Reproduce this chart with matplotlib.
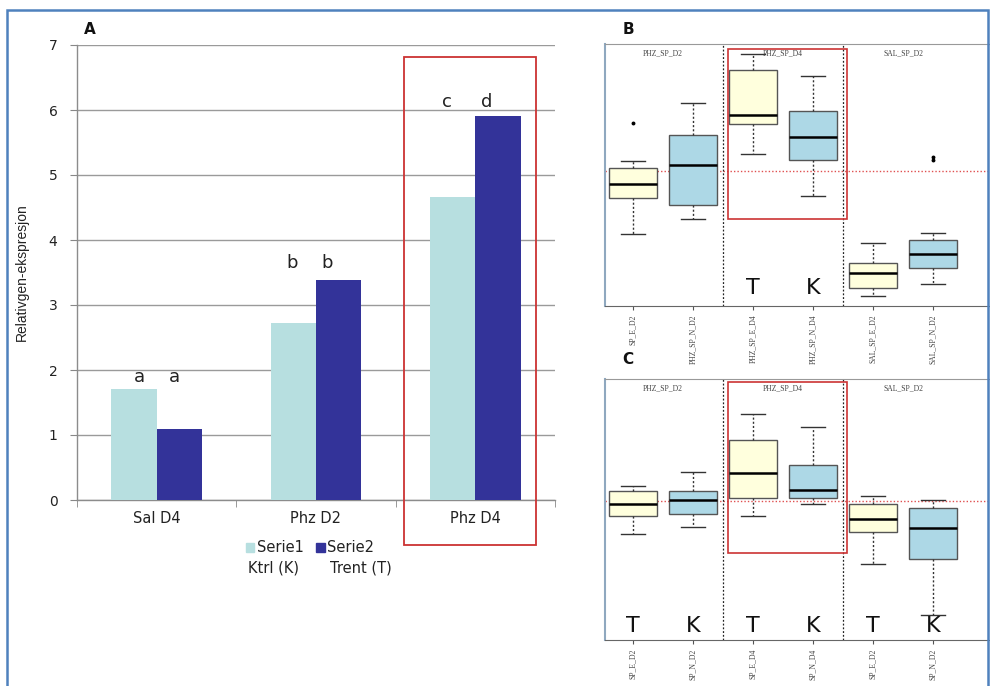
import matplotlib
matplotlib.use("Agg")
import matplotlib.pyplot as plt
from matplotlib.patches import Rectangle, Patch

# ---------------- data ----------------
categories = ["Sal D4", "Phz D2", "Phz D4"]
serie1 = [1.71, 2.72, 4.66]   # Ktrl (K)
serie2 = [1.09, 3.38, 5.91]   # Trent (T)
letters1 = ["a", "b", "c"]
letters2 = ["a", "b", "d"]
yticks_a = [0, 1, 2, 3, 4, 5, 6, 7]

strip_titles = ["PHZ_SP_D2", "PHZ_SP_D4", "SAL_SP_D2"]
b_labels = ["SP_E_D2", "PHZ_SP_N_D2", "PHZ_SP_E_D4", "PHZ_SP_N_D4", "SAL_SP_E_D2", "SAL_SP_N_D2"]
c_labels = ["SP_E_D2", "SP_N_D2", "SP_E_D4", "SP_N_D4", "SP_E_D2", "SP_N_D2"]
tk_labels = ["T", "K", "T", "K", "T", "K"]

# box stats: (whislo, q1, med, q3, whishi, fliers)
b_stats = [
    (2.75, 4.12, 4.66, 5.27, 5.53, [6.99]),
    (3.32, 3.85, 5.38, 6.53, 7.75, []),
    (5.80, 6.95, 7.29, 9.01, 9.62, []),
    (4.20, 5.57, 6.45, 7.44, 8.78, []),
    (0.38, 0.69, 1.26, 1.64, 2.41, []),
    (0.84, 1.45, 1.98, 2.52, 2.79, [5.69, 5.57]),
]
b_ref = 5.15
c_stats = [
    (4.06, 4.75, 5.21, 5.71, 5.90, []),
    (4.33, 4.83, 5.36, 5.71, 6.44, []),
    (4.75, 5.44, 6.40, 7.66, 8.66, []),
    (5.21, 5.44, 5.75, 6.71, 8.16, []),
    (2.91, 4.14, 4.64, 5.21, 5.52, []),
    (0.96, 3.10, 4.29, 5.06, 5.36, []),
]
c_ref = 5.33

# ---------------- figure ----------------
W, H = 990, 686
fig = plt.figure(figsize=(W / 100, H / 100), dpi=100)
fig.patch.set_facecolor("white")
plt.rcParams["font.family"] = ["DejaVu Sans"]

def ax_rect(x0, y0, x1, y1):
    return [x0 / W, 1 - y1 / H, (x1 - x0) / W, (y1 - y0) / H]

# outer blue border
fig.add_artist(Rectangle((7 / W, -0.01), (988 - 7) / W, 1.01 - 10 / H,
                         transform=fig.transFigure, fill=False,
                         edgecolor="#4f81bd", lw=1.8))

# ---------------- panel A ----------------
axA = fig.add_axes(ax_rect(77, 45, 555, 500))
x = list(range(len(categories)))
bw = 0.285
c1, c2 = "#b7dfe0", "#333399"
axA.bar([i - bw / 2 for i in x], serie1, width=bw, color=c1, zorder=3, label="Serie1")
axA.bar([i + bw / 2 for i in x], serie2, width=bw, color=c2, zorder=3, label="Serie2")
axA.set_xlim(-0.5, 2.5)
axA.set_ylim(0, 7)
axA.set_yticks(yticks_a)
axA.yaxis.grid(True, color="#9a9a9a", lw=1.0, zorder=0)
axA.set_axisbelow(True)
axA.set_xticks(x)
axA.set_xticklabels(categories, fontsize=10.5, color="#222")
axA.set_xticks([-0.5, 0.5, 1.5, 2.5], minor=True)
axA.tick_params(axis="x", which="major", length=0, pad=8)
axA.tick_params(axis="x", which="minor", length=5, color="#888", direction="out")
axA.tick_params(axis="y", length=5, color="#888", labelsize=10, labelcolor="#222", pad=9)
for s in ["top", "right"]:
    axA.spines[s].set_visible(False)
for s in ["left", "bottom"]:
    axA.spines[s].set_color("#8c8c8c")
    axA.spines[s].set_linewidth(1.0)
axA.set_ylabel("Relativgen-ekspresjon", fontsize=10, color="#222", labelpad=14,
               family=["Liberation Sans", "DejaVu Sans"])

letter_dx = [(-0.11, 0.11), (-0.15, 0.07), (-0.18, 0.07)]
letter_pad = [0.05, 0.12, 0.07]
for i in x:
    top = max(serie1[i], serie2[i]) + letter_pad[i]
    axA.text(i + letter_dx[i][0], top, letters1[i], ha="center", va="bottom", fontsize=13, color="#222")
    axA.text(i + letter_dx[i][1], top, letters2[i], ha="center", va="bottom", fontsize=13, color="#222")

axA.add_patch(Rectangle((1.552, -0.69), 2.381 - 1.552, 6.815 + 0.69, fill=False,
                        edgecolor="#cc3333", lw=1.3, clip_on=False, zorder=5))

leg = axA.legend(handles=[Patch(color=c1, label="Serie1"), Patch(color=c2, label="Serie2")],
                 loc="center", bbox_to_anchor=(310 / W, 1 - 548 / H),
                 bbox_transform=fig.transFigure, ncol=2, frameon=False,
                 fontsize=10.5, handlelength=0.6, handleheight=0.6,
                 handletextpad=0.2, columnspacing=0.8)
for t in leg.get_texts():
    t.set_color("#222")
fig.text(248 / W, 1 - 568 / H, "Ktrl (K)", fontsize=10.5, color="#222", va="center", ha="left")
fig.text(330 / W, 1 - 568 / H, "Trent (T)", fontsize=10.5, color="#222", va="center", ha="left")

fig.text(90 / W, 1 - 30 / H, "A", fontsize=11, fontweight="bold", ha="center", va="center", color="#111")

# ---------------- panels B and C ----------------
serif = ["Liberation Serif", "DejaVu Serif"]

def boxpanel(rect, stats, ref, labels, tk, red_y, tk_y, show_tk):
    ax = fig.add_axes(rect)
    positions = list(range(1, len(stats) + 1))
    st = []
    for (lo, q1, med, q3, hi, fl) in stats:
        st.append(dict(whislo=lo, q1=q1, med=med, q3=q3, whishi=hi, fliers=fl))
    bp = ax.bxp(st, positions=positions, widths=0.8, patch_artist=True, showfliers=True,
                boxprops=dict(edgecolor="#555555", lw=1.0),
                medianprops=dict(color="black", lw=1.8),
                whiskerprops=dict(color="#333", lw=1.0, linestyle=(0, (1.5, 1.5))),
                capprops=dict(color="#333", lw=1.0),
                flierprops=dict(marker="o", markersize=1.8, markerfacecolor="black",
                                markeredgecolor="black"))
    fills = ["#ffffdd", "#add8e6"] * 3
    for patch, fc in zip(bp["boxes"], fills):
        patch.set_facecolor(fc)
    ax.set_xlim(0.533, 6.95)
    ax.set_ylim(0, 10)
    ax.axhline(ref, color="#e05050", lw=1.0, linestyle=(0, (1, 1.5)), zorder=1)
    for xv in [2.5, 4.5]:
        ax.axvline(xv, color="#222", lw=0.9, linestyle=(0, (1.5, 1.5)))
    for k, t in enumerate(strip_titles):
        ax.text(1.5 + 2 * k, 9.65, t, ha="center", va="center", fontsize=5.5,
                family=serif, color="#444")
    ax.set_xticks(positions)
    ax.set_xticklabels(labels, rotation=90, fontsize=5.5, family=serif, color="#444")
    ax.tick_params(axis="x", length=3, color="#555", pad=3)
    ax.set_yticks([])
    ax.spines["right"].set_visible(False)
    ax.spines["left"].set_color("#8fa8bf")
    ax.spines["left"].set_linewidth(1.5)
    ax.spines["top"].set_color("#999")
    ax.spines["bottom"].set_color("#666")
    ax.add_patch(Rectangle((2.583, red_y[0]), 4.567 - 2.583, red_y[1] - red_y[0], fill=False,
                           edgecolor="#cc3333", lw=1.2, zorder=6))
    for p, t, show in zip(positions, tk, show_tk):
        if show:
            ax.text(p, tk_y, t, ha="center", va="center", fontsize=16, color="#111")
    return ax

boxpanel(ax_rect(605, 44, 990, 306), b_stats, b_ref, b_labels, tk_labels,
         (3.32, 9.81), 0.69, [False, False, True, True, False, False])
boxpanel(ax_rect(605, 379, 990, 640), c_stats, c_ref, c_labels, tk_labels,
         (3.35, 9.89), 0.54, [True] * 6)

fig.text(628 / W, 1 - 30 / H, "B", fontsize=11, fontweight="bold", ha="center", va="center", color="#111")
fig.text(628 / W, 1 - 360 / H, "C", fontsize=11, fontweight="bold", ha="center", va="center", color="#111")

fig.savefig("out.png", dpi=100, facecolor="white")
